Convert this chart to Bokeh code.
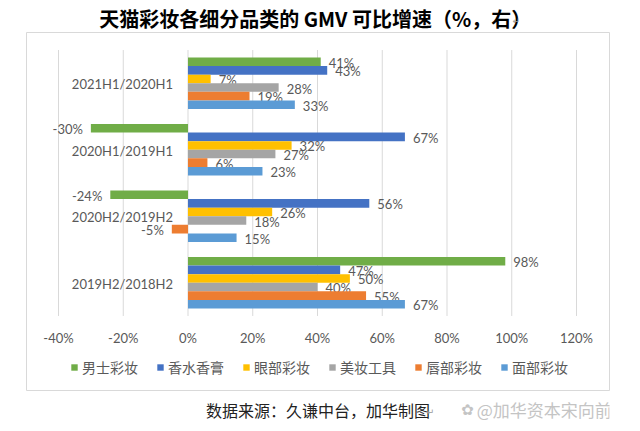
from bokeh.plotting import figure
from bokeh.layouts import column
from bokeh.models import (ColumnDataSource, Range1d, FixedTicker, Label, Legend, LegendItem)
from bokeh.core.properties import value
from bokeh.embed import file_html
from bokeh.resources import INLINE

# ---------------- data ----------------
categories = ["2021H1/2020H1", "2020H1/2019H1", "2020H2/2019H2", "2019H2/2018H2"]
series = ["男士彩妆", "香水香膏", "眼部彩妆", "美妆工具", "唇部彩妆", "面部彩妆"]
colors = ["#70AD47", "#4472C4", "#FFC000", "#A5A5A5", "#ED7D31", "#5B9BD5"]
men_makeup = [41, -30, -24, 98]
perfume = [43, 67, 56, 47]
eye_makeup = [7, 32, 26, 50]
beauty_tools = [28, 27, 18, 40]
lip_makeup = [19, 6, -5, 55]
face_makeup = [33, 23, 15, 67]
series_values = [men_makeup, perfume, eye_makeup, beauty_tools, lip_makeup, face_makeup]
x_ticks = [-40, -20, 0, 20, 40, 60, 80, 100, 120]
x_tick_labels = ["-40%", "-20%", "0%", "20%", "40%", "60%", "80%", "100%", "120%"]
title_text = "天猫彩妆各细分品类的 GMV 可比增速（%，右）"
source_text = "数据来源：久谦中台，加华制图"
watermark_text = "@加华资本宋向前"

CJK = "Noto Sans CJK SC"
LAT = "Lato"
GRAY = "#595959"
TOTAL_W = 632

# ---------------- helper for text-only strips ----------------
def strip(h):
    f = figure(width=TOTAL_W, height=h, x_range=Range1d(0, TOTAL_W), y_range=Range1d(h, 0),
               x_axis_location=None, y_axis_location=None, title=None,
               output_backend="svg", toolbar_location=None, min_border=0)
    f.outline_line_color = None
    f.grid.grid_line_color = None
    f.background_fill_color = "white"
    f.border_fill_color = "white"
    return f

# ---------------- title strip ----------------
TITLE_H = 32
t = strip(TITLE_H)
t.add_layout(Label(x=313, y=17.5, text=title_text, text_align="center", text_baseline="middle",
                   text_font=CJK, text_font_size="20px", text_font_style="bold",
                   text_color="#000000"))
t.add_layout(Label(x=531, y=20, text="↵", text_align="center", text_baseline="middle",
                   text_font="DejaVu Sans", text_font_size="9px", text_color="#999999"))

# ---------------- main chart: frame == bordered box ----------------
BOX_L, BOX_R, BOX_T, BOX_B = 26, 609, 32, 390   # page pixels of the box
GRID_L, GRID_R = 58, 576                         # page x of -40% and 120%
BAR_TOP, BAR_BOT = 57, 308                       # page y of first / last bar edge
GAP = 1.74                                       # gap between groups (bar heights)
n_s = len(series)
pitch = n_s + GAP

k = (GRID_R - GRID_L) / (x_ticks[-1] - x_ticks[0])
x_start = x_ticks[0] - (GRID_L - BOX_L) / k
x_end = x_ticks[-1] + (BOX_R - GRID_R) / k
span = (len(categories) - 1) * pitch + n_s
u = (BAR_BOT - BAR_TOP) / span
y_top = -(BAR_TOP - BOX_T) / u
y_bot = (BOX_B - BAR_TOP) / u

MAIN_H = BOX_B - TITLE_H + 1
p = figure(width=TOTAL_W, height=MAIN_H, x_range=Range1d(x_start, x_end),
           y_range=Range1d(y_bot, y_top), y_axis_location=None, title=None,
           output_backend="svg", toolbar_location=None,
           min_border_left=BOX_L, min_border_right=TOTAL_W - BOX_R,
           min_border_top=BOX_T - TITLE_H, min_border_bottom=MAIN_H - (BOX_B - TITLE_H))
p.outline_line_color = "#d9d9d9"
p.outline_line_width = 1
p.background_fill_color = "white"
p.border_fill_color = "white"
p.xgrid.visible = False
p.ygrid.visible = False

# vertical gridlines from the tick list, spanning the bar area plus half a gap
g_top = -GAP / 2
g_bot = span + GAP / 2
p.segment(x0=x_ticks, x1=x_ticks, y0=[g_top] * len(x_ticks), y1=[g_bot] * len(x_ticks),
          line_color="#d9d9d9", line_width=1)

legend_items = []
for j, (s, vals, col) in enumerate(zip(series, series_values, colors)):
    src = ColumnDataSource(dict(
        y=[i * pitch + j + 0.5 for i in range(len(categories))],
        x=vals,
        label=[f"{v}%" for v in vals],
        align=["left" if v >= 0 else "right" for v in vals],
        xoff=[8 if v >= 0 else -8 for v in vals],
    ))
    r = p.hbar(y="y", left=0, right="x", height=1.0, source=src,
               fill_color=col, line_color=None)
    p.text(x="x", y="y", text="label", source=src, text_align="align",
           x_offset="xoff", y_offset=1, text_baseline="middle",
           text_font=value(LAT), text_font_size="13px", text_color=GRAY)
    legend_items.append(LegendItem(label=s, renderers=[r]))

cat_src = ColumnDataSource(dict(y=[i * pitch + n_s / 2 for i in range(len(categories))],
                                x=[0] * len(categories), text=categories))
p.text(x="x", y="y", text="text", source=cat_src, text_align="right",
       text_baseline="middle", x_offset=-15, y_offset=1,
       text_font=value(LAT), text_font_size="13px", text_color=GRAY)

# x axis: tick labels pulled up inside the box
p.xaxis.ticker = FixedTicker(ticks=x_ticks)
p.xaxis.major_label_overrides = dict(zip(x_ticks, x_tick_labels))
p.xaxis.axis_line_color = None
p.xaxis.major_tick_line_color = None
p.xaxis.minor_tick_line_color = None
p.xaxis.major_tick_out = 0
p.xaxis.major_tick_in = 0
p.xaxis.major_label_standoff = -61
p.xaxis.major_label_text_font = LAT
p.xaxis.major_label_text_font_size = "13px"
p.xaxis.major_label_text_color = GRAY

legend = Legend(items=legend_items, orientation="horizontal",
                location=(70 - BOX_L, BOX_B - 377),
                glyph_width=8, glyph_height=8, label_standoff=4, spacing=18,
                padding=0, margin=0, border_line_color=None, background_fill_alpha=0,
                label_text_font=CJK, label_text_font_size="14px",
                label_text_color=GRAY, label_height=20)
p.add_layout(legend)

# ---------------- source strip ----------------
SRC_H = 431 - TITLE_H - MAIN_H
b = strip(SRC_H)
b.add_layout(Label(x=316, y=18, text=source_text, text_align="center", text_baseline="middle",
                   text_font=CJK, text_font_size="16px", text_color="#222222"))
b.add_layout(Label(x=438, y=20, text="↵", text_align="center", text_baseline="middle",
                   text_font="DejaVu Sans", text_font_size="9px", text_color="#999999"))
b.add_layout(Label(x=478, y=18, text="✿", text_align="center", text_baseline="middle",
                   text_font="DejaVu Sans", text_font_size="15px", text_color="#c4c4c4"))
b.add_layout(Label(x=488, y=18, text=watermark_text, text_align="left", text_baseline="middle",
                   text_font=CJK, text_font_size="17px", text_color="#c4c4c4"))

layout = column(t, p, b, spacing=0)
open("out.html", "w").write(file_html(layout, INLINE))
